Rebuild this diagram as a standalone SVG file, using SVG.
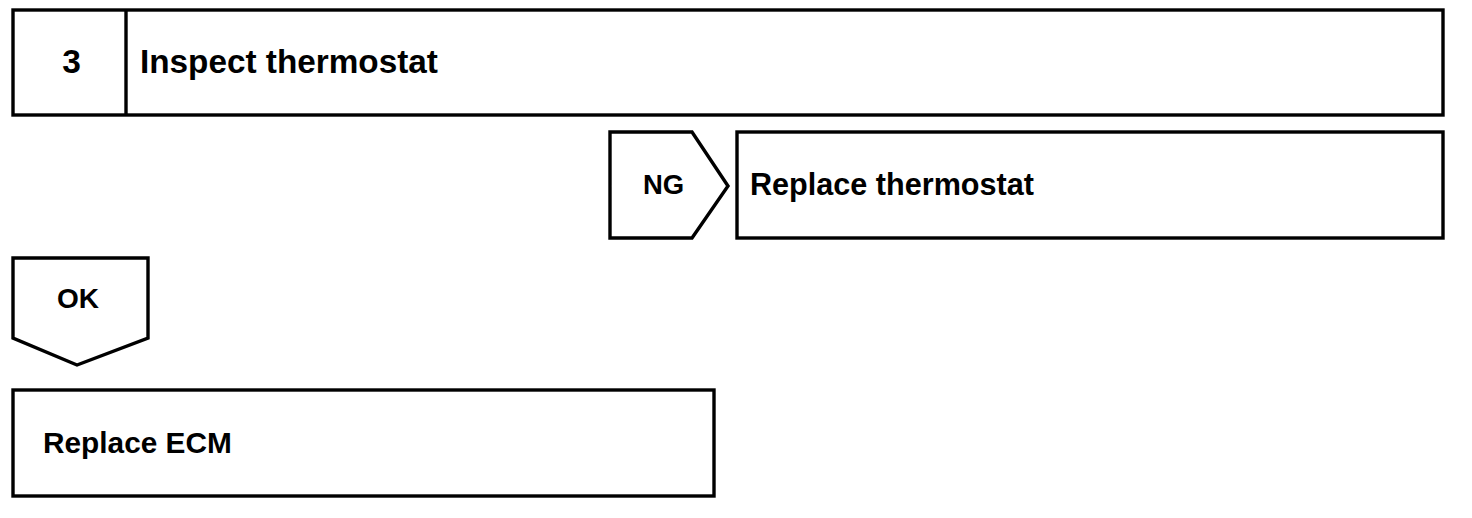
<svg xmlns="http://www.w3.org/2000/svg" width="1472" height="518" viewBox="0 0 1472 518">
<style>
.box{fill:#fff;stroke:#000;stroke-width:3.4;stroke-linejoin:miter}
.t{font-family:"Liberation Sans",Arial,sans-serif;font-weight:bold;fill:#000}
</style>
<rect width="1472" height="518" fill="#fff"/>
<g id="step3">
<rect class="box" x="13" y="10" width="1430" height="105"/>
<line x1="126" y1="10" x2="126" y2="115" stroke="#000" stroke-width="3.4"/>
<text class="t" x="71.5" y="73" font-size="33.5" text-anchor="middle">3</text>
<text class="t" x="140" y="72.5" font-size="33.3">Inspect thermostat</text>
</g>
<g id="ng">
<polygon class="box" points="610,132 692,132 728,186 692,238 610,238"/>
<text class="t" x="663.5" y="194" font-size="27.5" text-anchor="middle">NG</text>
</g>
<g id="replace-thermostat">
<rect class="box" x="737" y="132" width="706" height="106"/>
<text class="t" x="750" y="195" font-size="30.6">Replace thermostat</text>
</g>
<g id="ok">
<polygon class="box" points="13,258 148,258 148,338 77,365 13,338"/>
<text class="t" x="78" y="308" font-size="28" text-anchor="middle">OK</text>
</g>
<g id="replace-ecm">
<rect class="box" x="13" y="390" width="701" height="106"/>
<text class="t" x="43" y="453" font-size="29.8">Replace ECM</text>
</g>
<g id="connectors"></g>
</svg>
